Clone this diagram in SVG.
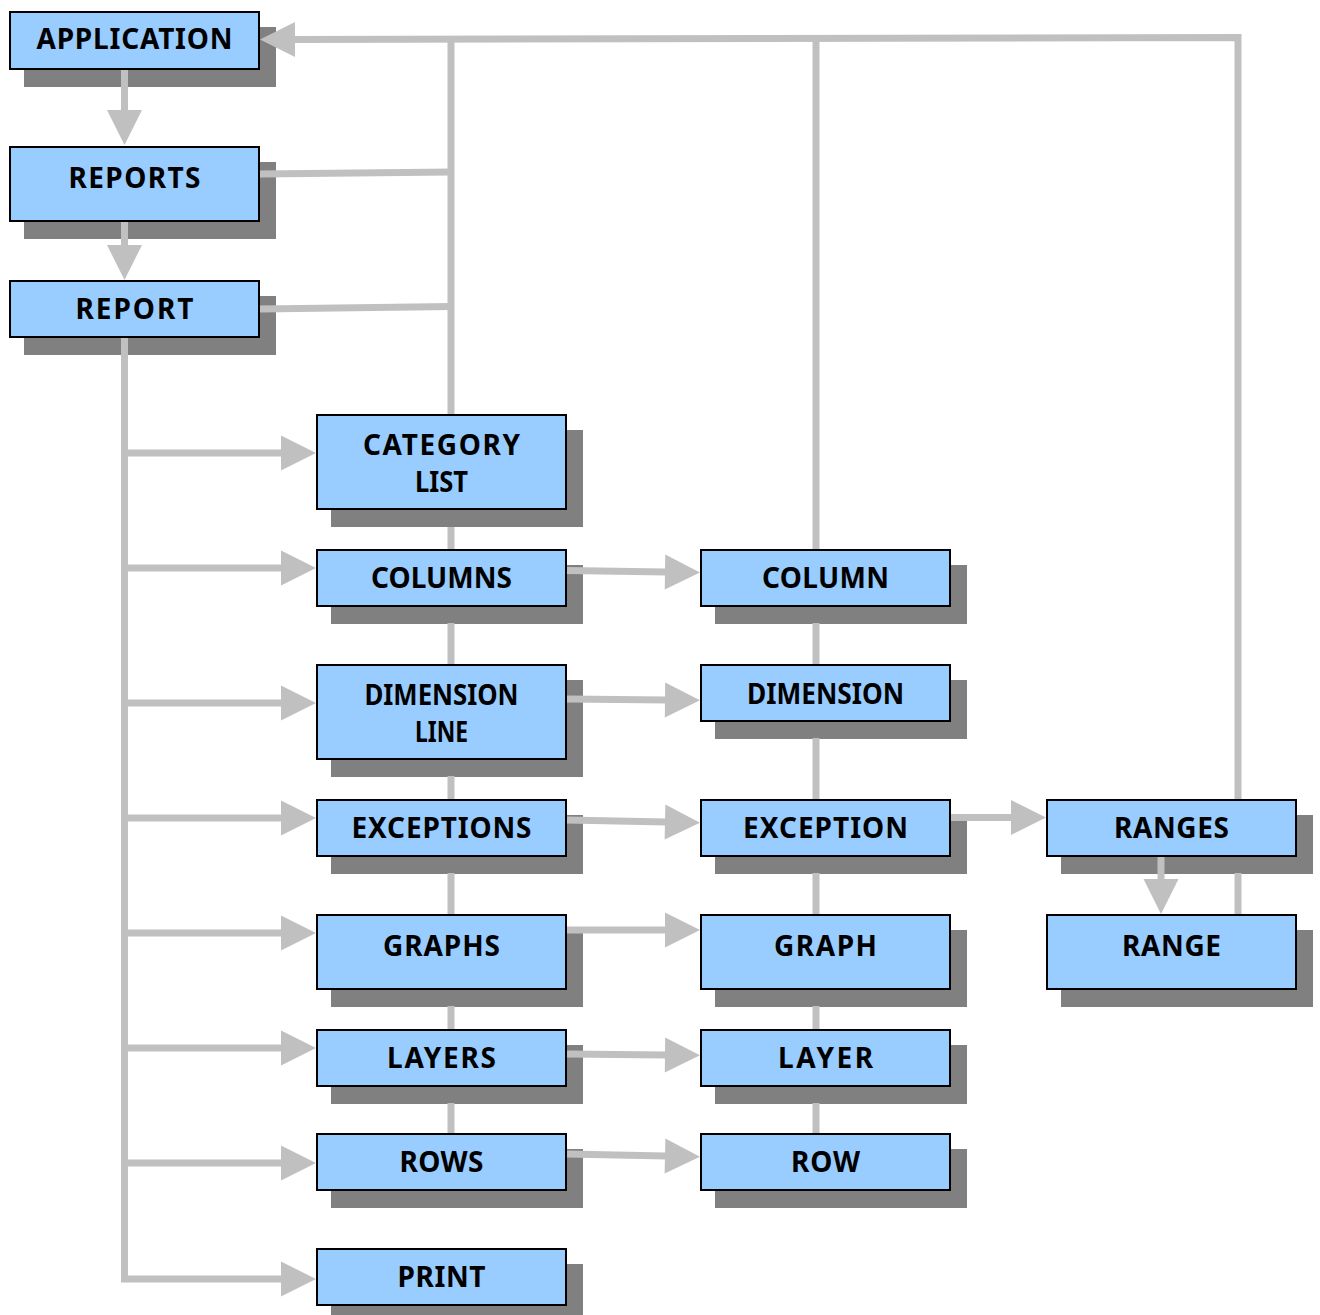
<svg xmlns="http://www.w3.org/2000/svg" width="1320" height="1315" viewBox="0 0 1320 1315">
  <style>
    .shadow { fill: #808080; }
    .box { fill: #99ccff; stroke: #000000; stroke-width: 2; }
    .label { font-family: "Noto Sans", "DejaVu Sans", sans-serif; font-weight: bold; font-size: 28px; fill: #000000; text-anchor: middle; }
    .wire { fill: none; stroke: #c0c0c0; stroke-width: 7; stroke-linejoin: miter; }
    .arrow { marker-end: url(#head); }
  </style>
  <defs>
    <marker id="head" markerUnits="userSpaceOnUse" markerWidth="36" markerHeight="36" refX="1" refY="17.5" orient="auto" overflow="visible">
      <path d="M0,0 L35,17.5 L0,35 Z" fill="#c0c0c0"/>
    </marker>
  </defs>
  <rect width="1320" height="1315" fill="#ffffff"/>

  <!-- nodes: shadow, box, label -->
  <g id="application">
    <rect class="shadow" x="24" y="27" width="252" height="60"/>
    <rect class="box" x="10" y="12" width="249" height="57"/>
    <text class="label" x="134.5" y="49" textLength="196" lengthAdjust="spacing">APPLICATION</text>
  </g>
  <g id="reports">
    <rect class="shadow" x="24" y="162" width="252" height="77"/>
    <rect class="box" x="10" y="147" width="249" height="74"/>
    <text class="label" x="134.5" y="188" textLength="132" lengthAdjust="spacing">REPORTS</text>
  </g>
  <g id="report">
    <rect class="shadow" x="24" y="296" width="252" height="59"/>
    <rect class="box" x="10" y="281" width="249" height="56"/>
    <text class="label" x="134.5" y="319" textLength="118" lengthAdjust="spacing">REPORT</text>
  </g>
  <g id="category-list">
    <rect class="shadow" x="331" y="430" width="252" height="97"/>
    <rect class="box" x="317" y="415" width="249" height="94"/>
    <text class="label" x="441.5" y="455" textLength="157" lengthAdjust="spacing">CATEGORY</text>
    <text class="label" x="441.5" y="492" textLength="53" lengthAdjust="spacingAndGlyphs">LIST</text>
  </g>
  <g id="columns">
    <rect class="shadow" x="331" y="565" width="252" height="59"/>
    <rect class="box" x="317" y="550" width="249" height="56"/>
    <text class="label" x="441.5" y="588" textLength="141" lengthAdjust="spacing">COLUMNS</text>
  </g>
  <g id="dimension-line">
    <rect class="shadow" x="331" y="680" width="252" height="97"/>
    <rect class="box" x="317" y="665" width="249" height="94"/>
    <text class="label" x="441.5" y="705" textLength="154" lengthAdjust="spacingAndGlyphs">DIMENSION</text>
    <text class="label" x="441.5" y="742" textLength="53" lengthAdjust="spacingAndGlyphs">LINE</text>
  </g>
  <g id="exceptions">
    <rect class="shadow" x="331" y="815" width="252" height="59"/>
    <rect class="box" x="317" y="800" width="249" height="56"/>
    <text class="label" x="441.5" y="838" textLength="180" lengthAdjust="spacing">EXCEPTIONS</text>
  </g>
  <g id="graphs">
    <rect class="shadow" x="331" y="930" width="252" height="77"/>
    <rect class="box" x="317" y="915" width="249" height="74"/>
    <text class="label" x="441.5" y="956" textLength="117" lengthAdjust="spacing">GRAPHS</text>
  </g>
  <g id="layers">
    <rect class="shadow" x="331" y="1045" width="252" height="59"/>
    <rect class="box" x="317" y="1030" width="249" height="56"/>
    <text class="label" x="441.5" y="1068" textLength="109" lengthAdjust="spacing">LAYERS</text>
  </g>
  <g id="rows">
    <rect class="shadow" x="331" y="1149" width="252" height="59"/>
    <rect class="box" x="317" y="1134" width="249" height="56"/>
    <text class="label" x="441.5" y="1172" textLength="84" lengthAdjust="spacing">ROWS</text>
  </g>
  <g id="print">
    <rect class="shadow" x="331" y="1264" width="252" height="59"/>
    <rect class="box" x="317" y="1249" width="249" height="56"/>
    <text class="label" x="441.5" y="1287" textLength="88" lengthAdjust="spacing">PRINT</text>
  </g>
  <g id="column">
    <rect class="shadow" x="715" y="565" width="252" height="59"/>
    <rect class="box" x="701" y="550" width="249" height="56"/>
    <text class="label" x="825.5" y="588" textLength="127" lengthAdjust="spacing">COLUMN</text>
  </g>
  <g id="dimension">
    <rect class="shadow" x="715" y="680" width="252" height="59"/>
    <rect class="box" x="701" y="665" width="249" height="56"/>
    <text class="label" x="825.5" y="704" textLength="157" lengthAdjust="spacingAndGlyphs">DIMENSION</text>
  </g>
  <g id="exception">
    <rect class="shadow" x="715" y="815" width="252" height="59"/>
    <rect class="box" x="701" y="800" width="249" height="56"/>
    <text class="label" x="825.5" y="838" textLength="165" lengthAdjust="spacing">EXCEPTION</text>
  </g>
  <g id="graph">
    <rect class="shadow" x="715" y="930" width="252" height="77"/>
    <rect class="box" x="701" y="915" width="249" height="74"/>
    <text class="label" x="825.5" y="956" textLength="103" lengthAdjust="spacing">GRAPH</text>
  </g>
  <g id="layer">
    <rect class="shadow" x="715" y="1045" width="252" height="59"/>
    <rect class="box" x="701" y="1030" width="249" height="56"/>
    <text class="label" x="825.5" y="1068" textLength="95" lengthAdjust="spacing">LAYER</text>
  </g>
  <g id="row">
    <rect class="shadow" x="715" y="1149" width="252" height="59"/>
    <rect class="box" x="701" y="1134" width="249" height="56"/>
    <text class="label" x="825.5" y="1172" textLength="69" lengthAdjust="spacing">ROW</text>
  </g>
  <g id="ranges">
    <rect class="shadow" x="1061" y="815" width="252" height="59"/>
    <rect class="box" x="1047" y="800" width="249" height="56"/>
    <text class="label" x="1171.5" y="838" textLength="115" lengthAdjust="spacing">RANGES</text>
  </g>
  <g id="range">
    <rect class="shadow" x="1061" y="930" width="252" height="77"/>
    <rect class="box" x="1047" y="915" width="249" height="74"/>
    <text class="label" x="1171.5" y="956" textLength="99" lengthAdjust="spacing">RANGE</text>
  </g>

  <!-- connectors -->
  <g id="connectors">
    <!-- application / reports / report chain -->
    <path class="wire arrow" d="M124.5,70 V111"/>
    <path class="wire arrow" d="M124.5,222 V246"/>

    <!-- report trunk and its branches -->
    <path class="wire arrow" d="M124.5,338 V1279 H282"/>
    <path class="wire arrow" d="M124.5,453 H282"/>
    <path class="wire arrow" d="M124.5,568 H282"/>
    <path class="wire arrow" d="M124.5,703 H282"/>
    <path class="wire arrow" d="M124.5,818 H282"/>
    <path class="wire arrow" d="M124.5,933 H282"/>
    <path class="wire arrow" d="M124.5,1048 H282"/>
    <path class="wire arrow" d="M124.5,1163 H282"/>

    <!-- return bus back to application -->
    <path class="wire" d="M1238,914 V873"/>
    <path class="wire arrow" d="M1238,799 V37.5 L294,39.5"/>

    <!-- left bus -->
    <path class="wire" d="M451,39 V414 M451,527 V549 M451,623 V664 M451,776 V799 M451,873 V914 M451,1006 V1029 M451,1103 V1133"/>
    <path class="wire" d="M260,174 L451,172"/>
    <path class="wire" d="M260,309 L451,306.5"/>

    <!-- middle bus -->
    <path class="wire" d="M816,39 V549 M816,623 V664 M816,738 V799 M816,873 V914 M816,1006 V1029 M816,1103 V1133"/>

    <!-- collection to item links -->
    <path class="wire arrow" d="M567,570.5 L666,572"/>
    <path class="wire arrow" d="M567,699 L666,700"/>
    <path class="wire arrow" d="M567,820 L666,822"/>
    <path class="wire arrow" d="M567,930 L666,930"/>
    <path class="wire arrow" d="M567,1054 L666,1055"/>
    <path class="wire arrow" d="M567,1154 L666,1156"/>

    <!-- exception ranges -->
    <path class="wire arrow" d="M951,817.5 H1012"/>
    <path class="wire arrow" d="M1161,857 V880"/>
  </g>
</svg>
